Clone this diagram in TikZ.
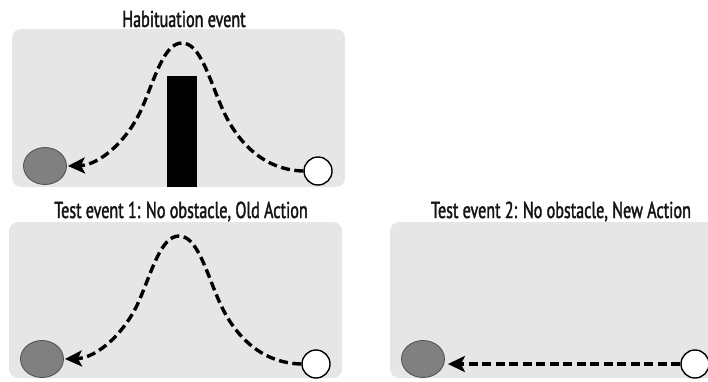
\documentclass[tikz,border=0pt]{standalone}
\usepackage{fontspec}
\setmainfont{PT Sans}[FakeStretch=0.70,FakeBold=1.6]
\usetikzlibrary{shapes.geometric,arrows.meta}
\definecolor{panelgray}{HTML}{E6E6E6}
\definecolor{ballgray}{HTML}{808080}
\definecolor{ballrim}{HTML}{4D4D4D}
\definecolor{titleink}{HTML}{141414}
\begin{document}
\begin{tikzpicture}[x=1pt,y=-1pt,
  panel/.style={fill=panelgray,draw=none,rounded corners=9pt},
  title/.style={anchor=base,text=titleink,font=\fontsize{23}{27}\selectfont,inner sep=0pt},
  goal/.style={ellipse,fill=ballgray,draw=ballrim,line width=0.8pt,minimum width=43pt,minimum height=37pt,inner sep=0pt},
  agent/.style={circle,fill=white,draw=black,line width=1.4pt,minimum size=28pt,inner sep=0pt},
  wall/.style={fill=black,draw=none},
  trajectory/.style={line width=3.4pt,dash pattern=on 9pt off 4.5pt,shorten >=1pt,-{Stealth[length=17pt,width=16pt,inset=4pt]}}
]
\useasboundingbox (0,0) rectangle (708,381);

% Habituation event: the agent jumps over the wall
\node[title] (t1) at (184,27) {Habituation event};
\begin{scope}
  \fill[panel] (12,29) rectangle (345,187);
  \fill[wall] (167,76) rectangle (197,187);
  \node[goal] (g1) at (45,166) {};
  \node[agent] (w1) at (318,171) {};
  \coordinate (r1) at (222,108);
  \coordinate (p1) at (182,43);
  \coordinate (l1) at (142,108);
  \draw[trajectory] (w1.west) .. controls (262,170) and (236,140) .. (r1)
     .. controls (209,78) and (200,43) .. (p1)
     .. controls (164,43) and (155,78) .. (l1)
     .. controls (128,140) and (100,165) .. (g1.east);
\end{scope}

% Test event 1: no obstacle, same jumping action
\node[title] (t2) at (181,218) {Test event 1: No obstacle, Old Action};
\begin{scope}[shift={(-3,193)}]
  \fill[panel] (12,29) rectangle (345,185);
  \node[goal] (g2) at (45,166) {};
  \node[agent] (w2) at (319,171) {};
  \coordinate (r2) at (222,108);
  \coordinate (p2) at (182,43);
  \coordinate (l2) at (142,108);
  \draw[trajectory] (w2.west) .. controls (262,170) and (236,140) .. (r2)
     .. controls (209,78) and (200,43) .. (p2)
     .. controls (164,43) and (155,78) .. (l2)
     .. controls (128,140) and (100,165) .. (g2.east);
\end{scope}

% Test event 2: no obstacle, straight approach
\node[title] (t3) at (561,218) {Test event 2: No obstacle, New Action};
\begin{scope}[shift={(378,193)}]
  \fill[panel] (12,29) rectangle (345,185);
  \node[goal] (g3) at (45,166) {};
  \node[agent] (w3) at (317,171) {};
  \draw[trajectory,shorten >=3pt] (w3.west) -- (g3.east |- w3.west);
\end{scope}
\end{tikzpicture}
\end{document}
